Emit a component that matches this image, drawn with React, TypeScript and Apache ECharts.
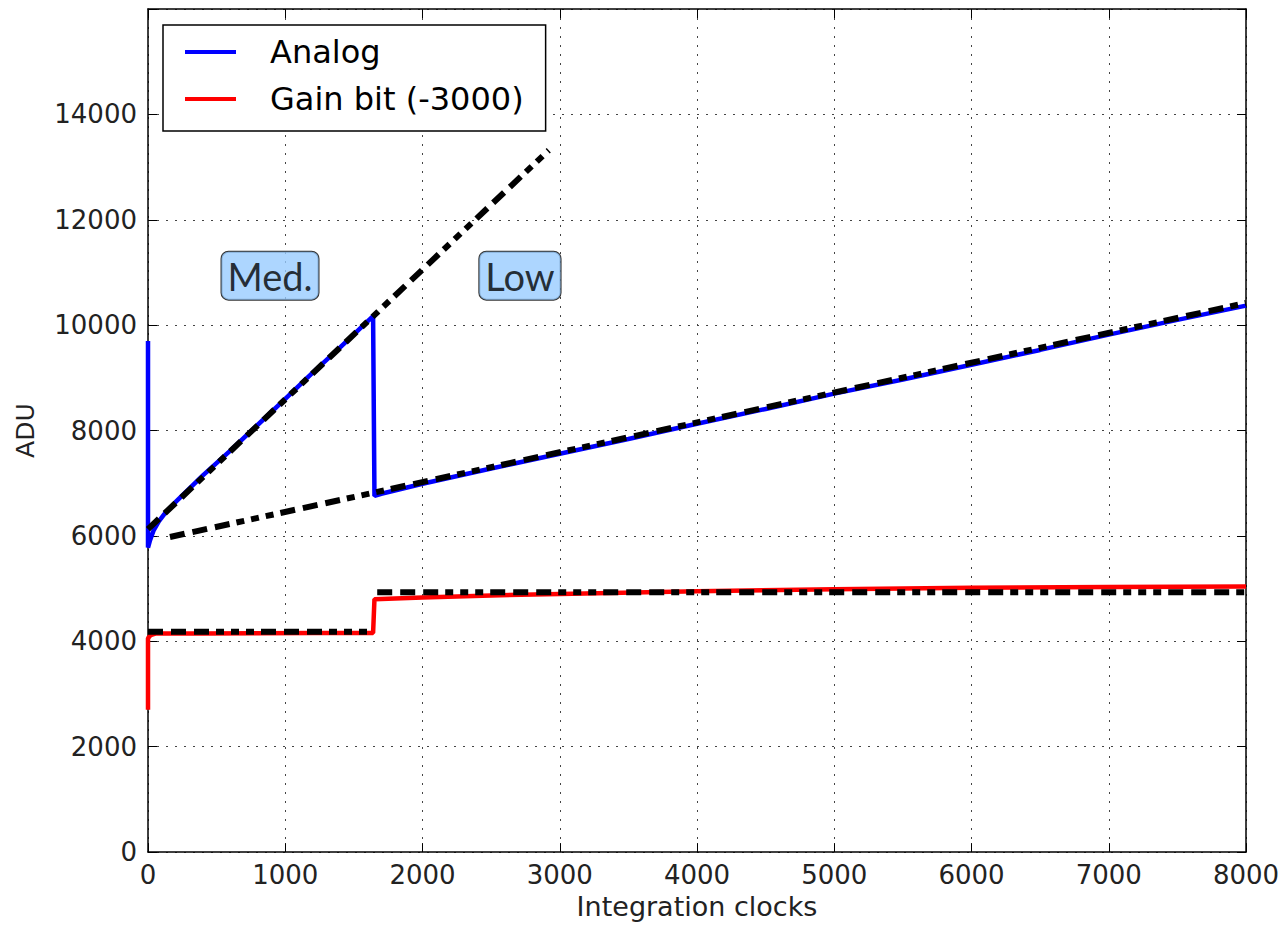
import React, { useEffect, useRef } from "react";
import * as echarts from "echarts";

// Analog readout (ADU) vs integration clocks
const analogPoints: [number, number][] = [
  [0, 9700], [0, 5780], [15, 5920], [40, 6100], [80, 6280], [130, 6450], [200, 6640],
  [400, 7150], [600, 7620], [800, 8110], [1000, 8600], [1200, 9100],
  [1400, 9580], [1640, 10170], [1650, 6760], [1700, 6800], [2000, 6990],
  [2500, 7280], [3000, 7560], [3500, 7840], [4000, 8130], [4500, 8410],
  [5000, 8700], [5500, 8970], [6000, 9250], [6500, 9530], [7000, 9820],
  [7500, 10100], [8000, 10370],
];

// Gain bit (offset -3000)
const gainPoints: [number, number][] = [
  [0, 2700], [0, 4060], [20, 4120], [60, 4150], [400, 4150], [800, 4155],
  [1200, 4160], [1640, 4160], [1650, 4800], [2000, 4830], [2500, 4870],
  [3000, 4900], [4000, 4950], [5000, 4990], [6000, 5015], [7000, 5030],
  [8000, 5040],
];

// Fitted lines (dash-dot, black)
const medFit: [number, number][] = [[0, 6130], [2920, 13320]];
const lowFit: [number, number][] = [[160, 5980], [8000, 10420]];
const gainMedFit: [number, number][] = [[0, 4180], [1640, 4180]];
const gainLowFit: [number, number][] = [[1670, 4930], [8000, 4930]];

// Region annotations
const annotations: { name: string; value: [number, number] }[] = [
  { name: "Med.", value: [889, 10940] },
  { name: "Low", value: [2710, 10940] },
];

const xMin = 0, xMax = 8000, xStep = 1000;
const yMin = 0, yMax = 16000, yStep = 2000;

const FONT = "DejaVu Sans";
const dashPattern = [15, 8, 15, 8, 15, 7, 8, 7, 8, 7, 8, 7];

export default function App() {
  const ref = useRef<HTMLDivElement>(null);
  useEffect(() => {
    if (!ref.current) return;
    const chart = echarts.init(ref.current, undefined, { renderer: "svg" });
    const frameLine = { show: true, onZero: false, lineStyle: { color: "#000", width: 1.5 } };
    const tick = { show: true, inside: true, length: 9, lineStyle: { color: "#000", width: 1 } };
    const fitStyle = { color: "#000", width: 6, type: dashPattern, cap: "butt" as const };
    chart.setOption({
      animation: false,
      backgroundColor: "#fff",
      grid: { left: 148, right: 39, top: 9, bottom: 70, containLabel: false },
      legend: {
        data: ["Analog", "Gain bit (-3000)"],
        orient: "vertical",
        left: 163,
        top: 25,
        icon: "rect",
        itemWidth: 51,
        itemHeight: 4,
        itemGap: 15,
        padding: [11, 22, 16, 22],
        backgroundColor: "#fff",
        borderColor: "#000",
        borderWidth: 1.5,
        borderRadius: 0,
        textStyle: { fontFamily: FONT, fontSize: 32, color: "#000", padding: [0, 0, 0, 29] },
      },
      xAxis: [
        {
          type: "value", min: xMin, max: xMax, interval: xStep,
          name: "Integration clocks", nameLocation: "middle", nameGap: 40,
          nameTextStyle: { fontFamily: FONT, fontSize: 27, color: "#222" },
          axisLine: frameLine, axisTick: tick,
          axisLabel: {
            fontFamily: FONT, fontSize: 26, color: "#222", margin: 10,
            formatter: (v: number) => String(v),
          },
          splitLine: { show: true, lineStyle: { color: "#444", width: 1, type: [2, 7] } },
        },
        {
          type: "value", position: "top", min: xMin, max: xMax, interval: xStep,
          axisLine: frameLine, axisTick: tick, axisLabel: { show: false }, splitLine: { show: false },
        },
      ],
      yAxis: [
        {
          type: "value", min: yMin, max: yMax, interval: yStep,
          name: "ADU", nameLocation: "middle", nameGap: 110,
          nameTextStyle: { fontFamily: FONT, fontSize: 25, color: "#222" },
          axisLine: frameLine, axisTick: tick,
          axisLabel: {
            fontFamily: FONT, fontSize: 26, color: "#222", margin: 11,
            formatter: (v: number) => (v >= yMax ? "" : String(v)),
          },
          splitLine: { show: true, lineStyle: { color: "#444", width: 1, type: [2, 7] } },
        },
        {
          type: "value", position: "right", min: yMin, max: yMax, interval: yStep,
          axisLine: frameLine, axisTick: tick, axisLabel: { show: false }, splitLine: { show: false },
        },
      ],
      series: [
        {
          name: "Analog", type: "line", data: analogPoints, showSymbol: false, symbol: "none",
          lineStyle: { color: "#0000ff", width: 4.5 }, itemStyle: { color: "#0000ff" }, z: 2,
        },
        {
          name: "Gain bit (-3000)", type: "line", data: gainPoints, showSymbol: false, symbol: "none",
          lineStyle: { color: "#ff0000", width: 4.5 }, itemStyle: { color: "#ff0000" }, z: 2,
        },
        { name: "medFit", type: "line", data: medFit, symbol: "none", lineStyle: fitStyle, z: 3 },
        { name: "lowFit", type: "line", data: lowFit, symbol: "none", lineStyle: fitStyle, z: 3 },
        { name: "gainMedFit", type: "line", data: gainMedFit, symbol: "none", lineStyle: fitStyle, z: 3 },
        { name: "gainLowFit", type: "line", data: gainLowFit, symbol: "none", lineStyle: fitStyle, z: 3 },
        {
          name: "annotations", type: "scatter", data: annotations, symbolSize: 1,
          itemStyle: { color: "rgba(0,0,0,0)" }, z: 5,
          label: {
            show: true, position: "inside",
            formatter: (p: any) => p.name,
            fontFamily: "Lato", fontSize: 38, lineHeight: 42, color: "#000",
            backgroundColor: "#99ccff", borderColor: "#000", borderWidth: 1,
            borderRadius: 7, padding: [3, 6],
          },
        },
      ],
    });
    return () => chart.dispose();
  }, []);
  return (
    <div
      ref={ref}
      style={{ position: "absolute", left: 0, top: 0, width: 1285, height: 925 }}
    />
  );
}
